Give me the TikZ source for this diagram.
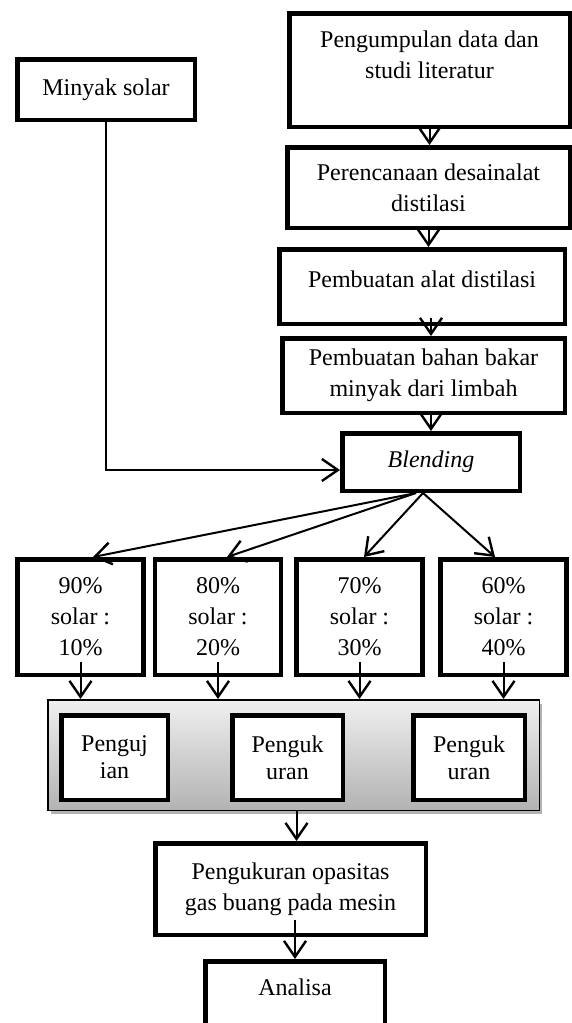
\documentclass[tikz,border=0pt]{standalone}
\usepackage{fontspec}
\setmainfont{Liberation Serif}
\usetikzlibrary{arrows.meta,shadows}

\begin{document}
\begin{tikzpicture}[x=1pt,y=-1pt,font=\fontsize{24}{31}\selectfont,box/.style={draw,line width=4.5pt,align=center,inner sep=2pt,fill=white},pct/.style={box,minimum width=126pt,minimum height=115.5pt},sub/.style={box,minimum height=84.5pt,font=\fontsize{24}{27}\selectfont},arr/.style={line width=2pt,-{Straight Barb[length=16pt,width=22pt,line width=2.4pt]}}]
\useasboundingbox (0,0) rectangle (572,1023);
\node[box,minimum width=177.5pt,minimum height=60.5pt] (minyak) at (106,89.5) {Minyak solar};
\node[box,minimum width=280.5pt,minimum height=113.5pt,text depth=30pt] (kumpul) at (429.5,70) {Pengumpulan data dan\\studi literatur};
\node[box,minimum width=282.5pt,minimum height=80.5pt] (rencana) at (428.5,187.5) {Perencanaan desainalat\\distilasi};
\node[box,minimum width=285.5pt,minimum height=74.5pt,text depth=15pt] (alat) at (422,286.5) {Pembuatan alat distilasi};
\node[box,minimum width=282.5pt,minimum height=74.5pt] (bahan) at (423.5,375.5) {Pembuatan bahan bakar\\minyak dari limbah};
\node[box,minimum width=177.5pt,minimum height=57.5pt] (blend) at (431,462) {\textit{Blending}};
\node[pct] (p90) at (80.5,617) {90\%\\solar :\\10\%};
\node[pct] (p80) at (218,617) {80\%\\solar :\\20\%};
\node[pct] (p70) at (359.5,617) {70\%\\solar :\\30\%};
\node[pct] (p60) at (503.5,617) {60\%\\solar :\\40\%};
\node[draw,line width=1.5pt,top color=black!6,bottom color=black!30,drop shadow={shadow xshift=3pt,shadow yshift=-4pt,opacity=.6},minimum width=491.5pt,minimum height=110.5pt] (grup) at (293.5,755) {};
\node[sub,minimum width=106.5pt] (uji) at (114.5,757.5) {Penguj\\ian};
\node[sub,minimum width=110.5pt] (ukura) at (287.5,757.5) {Penguk\\uran};
\node[sub,minimum width=111.5pt] (ukurb) at (469,757.5) {Penguk\\uran};
\node[box,minimum width=270.5pt,minimum height=91.5pt] (opas) at (290.5,889) {Pengukuran opasitas\\gas buang pada mesin};
\node[box,minimum width=179.5pt,minimum height=96.5pt,text depth=45pt] (analisa) at (295,1009.5) {Analisa};
\draw[arr](kumpul.south)--(kumpul.south |- rencana.north);\draw[arr](rencana.south)--(rencana.south |- alat.north);
\draw[arr,shorten <=-8pt](blend.north |- alat.south)--(blend.north |- bahan.north);\draw[arr](blend.north |- bahan.south)--(blend.north);
\draw[arr](minyak.south)|-([yshift=-8pt]blend.west);
\draw[arr]([xshift=-15pt]blend.south)--([xshift=12.5pt]p90.north);\draw[arr]([xshift=-15pt]blend.south)--([xshift=9pt]p80.north);
\draw[arr]([xshift=-8pt]blend.south)--([xshift=4.5pt]p70.north);\draw[arr]([xshift=-8pt]blend.south)--([xshift=-8.5pt]p60.north);
\draw[arr,shorten <=-15pt](p90.south)--(p90.south |- grup.north);\draw[arr,shorten <=-15pt](p80.south)--(p80.south |- grup.north);
\draw[arr,shorten <=-15pt](p70.south)--(p70.south |- grup.north);\draw[arr,shorten <=-15pt](p60.south)--(p60.south |- grup.north);
\draw[arr]([xshift=3pt]grup.south)--([xshift=3pt]grup.south |- opas.north);
\draw[arr,shorten <=-17pt](analisa.north |- opas.south)--(analisa.north);
\end{tikzpicture}
\end{document}
